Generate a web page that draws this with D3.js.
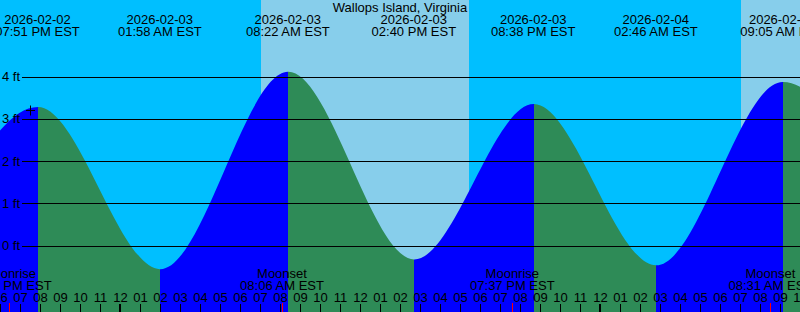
<!DOCTYPE html>
<html>
<head>
<meta charset="utf-8">
<script src="https://cdn.jsdelivr.net/npm/d3@7"></script>
<style>
  body { margin: 0; background: #fff; }
  svg { display: block; }
  text { font-family: "Liberation Sans", Arial, sans-serif; font-size: 13px; fill: #000; }
</style>
</head>
<body>
<div id="chart"></div>
<script>
var W = 800
var H = 312

var title = 'Wallops Island, Virginia'
var startTime = '2026-02-02 18:00'
var endTime = '2026-02-04 10:00'

// tide extremes (EST), heights in ft; first and last lie off the chart
var tideTimes = ['2026-02-02 14:09', '2026-02-02 19:51', '2026-02-03 01:58', '2026-02-03 08:22',
  '2026-02-03 14:40', '2026-02-03 20:38', '2026-02-04 02:46', '2026-02-04 09:05', '2026-02-04 15:20']
var tideHeights = [-0.50, 3.28, -0.56, 4.11, -0.33, 3.35, -0.47, 3.87, -0.30]

// daylight spans
var sunrises = ['2026-02-03 07:03', '2026-02-04 07:03']
var sunsets = ['2026-02-03 17:27', '2026-02-04 17:28']

// moon events
var moonTimes = ['2026-02-02 18:28', '2026-02-03 08:06', '2026-02-03 19:37', '2026-02-04 08:31']
var moonNames = ['Moonrise', 'Moonset', 'Moonrise', 'Moonset']

var heightTicks = [0, 1, 2, 3, 4]

// current time marker
var nowTime = '2026-02-02 19:30'
var nowHeight = 3.2

var parse = d3.utcParse('%Y-%m-%d %H:%M')
var fmtDate = d3.utcFormat('%Y-%m-%d')
var fmtTime = d3.utcFormat('%I:%M %p EST')
var fmtHour = d3.utcFormat('%I')

var x = d3.scaleUtc().domain([parse(startTime), parse(endTime)]).range([0, W])
var y = d3.scaleLinear().domain([0, 4]).range([245.5, 76.5])

var tides = tideTimes.map(function (t, i) { return { t: parse(t), h: tideHeights[i] } })

var svg = d3.select('#chart').append('svg')
  .attr('width', W)
  .attr('height', H)
  .attr('shape-rendering', 'auto')

svg.append('rect')
  .attr('width', W)
  .attr('height', H)
  .attr('fill', '#00bfff')

svg.selectAll('rect.day')
  .data(sunrises)
  .enter().append('rect')
  .attr('class', 'day')
  .attr('x', function (d) { return Math.round(x(parse(d))) })
  .attr('y', 0)
  .attr('width', function (d, i) { return Math.round(x(parse(sunsets[i]))) - Math.round(x(parse(d))) })
  .attr('height', H)
  .attr('fill', '#87ceeb')

// the plotted curve sits one pixel right of the time axis, as in the source
var area = d3.area()
  .x(function (d) { return x(d.t) + 1 })
  .y0(H)
  .y1(function (d) { return y(d.h) })
  .curve(d3.curveMonotoneX)

var defs = svg.append('defs')
var segs = d3.pairs(tides)
segs.forEach(function (p, i) {
  var a = Math.round(x(p[0].t)) + 1
  var b = Math.round(x(p[1].t)) + 1
  defs.append('clipPath').attr('id', 'seg' + i)
    .append('rect')
    .attr('x', a)
    .attr('y', 0)
    .attr('width', b - a)
    .attr('height', H)
  svg.append('path')
    .datum(tides)
    .attr('d', area)
    .attr('clip-path', 'url(#seg' + i + ')')
    .attr('fill', p[1].h > p[0].h ? '#0000ff' : '#2e8b57')
})

// height grid
svg.selectAll('line.grid')
  .data(heightTicks)
  .enter().append('line')
  .attr('x1', 22)
  .attr('x2', W)
  .attr('y1', function (d) { return Math.round(y(d)) + 0.5 })
  .attr('y2', function (d) { return Math.round(y(d)) + 0.5 })
  .attr('stroke', '#000')
  .attr('stroke-width', 1)

svg.selectAll('text.ylab')
  .data(heightTicks)
  .enter().append('text')
  .attr('x', 2)
  .attr('y', function (d) { return y(d) + 4.5 })
  .text(function (d) { return d + ' ft' })

svg.append('text')
  .attr('x', W / 2)
  .attr('y', 12)
  .attr('text-anchor', 'middle')
  .text(title)

// tide extreme labels
var shown = tides.filter(function (d) { return d.t >= x.domain()[0] && d.t <= x.domain()[1] })
var tl = svg.selectAll('g.tlab')
  .data(shown)
  .enter().append('g')
  .attr('transform', function (d) { return 'translate(' + (x(d.t) + 0.5) + ',0)' })
tl.append('text').attr('y', 24).attr('text-anchor', 'middle').text(function (d) { return fmtDate(d.t) })
tl.append('text').attr('y', 36).attr('text-anchor', 'middle').text(function (d) { return fmtTime(d.t) })

// moon labels
var ml = svg.selectAll('g.mlab')
  .data(moonTimes)
  .enter().append('g')
  .attr('transform', function (d) { return 'translate(' + x(parse(d)) + ',0)' })
ml.append('text').attr('y', 278).attr('text-anchor', 'middle').text(function (d, i) { return moonNames[i] })
ml.append('text').attr('y', 290).attr('text-anchor', 'middle').text(function (d) { return fmtTime(parse(d)) })

// hour ticks
var hours = x.ticks(d3.utcHour.every(1))
svg.selectAll('text.hour')
  .data(hours)
  .enter().append('text')
  .attr('x', function (d) { return x(d) + 0.5 })
  .attr('y', 301.5)
  .attr('text-anchor', 'middle')
  .text(function (d) { return fmtHour(d) })

svg.selectAll('line.tick')
  .data(hours)
  .enter().append('line')
  .attr('x1', function (d) { return d.getUTCHours() === 0 ? x(d) : x(d) + 0.5 })
  .attr('x2', function (d) { return d.getUTCHours() === 0 ? x(d) : x(d) + 0.5 })
  .attr('y1', 304)
  .attr('y2', H)
  .attr('stroke', '#000')
  .attr('stroke-width', function (d) { return d.getUTCHours() === 0 ? 2 : 1 })

svg.selectAll('line.moon')
  .data(moonTimes)
  .enter().append('line')
  .attr('x1', function (d) { return Math.round(x(parse(d))) + 0.5 })
  .attr('x2', function (d) { return Math.round(x(parse(d))) + 0.5 })
  .attr('y1', 303)
  .attr('y2', H)
  .attr('stroke', '#ff0000')

// now marker
var nx = Math.round(x(parse(nowTime))) + 0.5
var ny = Math.round(y(nowHeight)) + 0.5
svg.append('path')
  .attr('d', 'M' + (nx - 4.5) + ',' + ny + 'H' + (nx + 4.5) + 'M' + nx + ',' + (ny - 5) + 'V' + (ny + 5))
  .attr('stroke', '#000')
  .attr('fill', 'none')
</script>
</body>
</html>
